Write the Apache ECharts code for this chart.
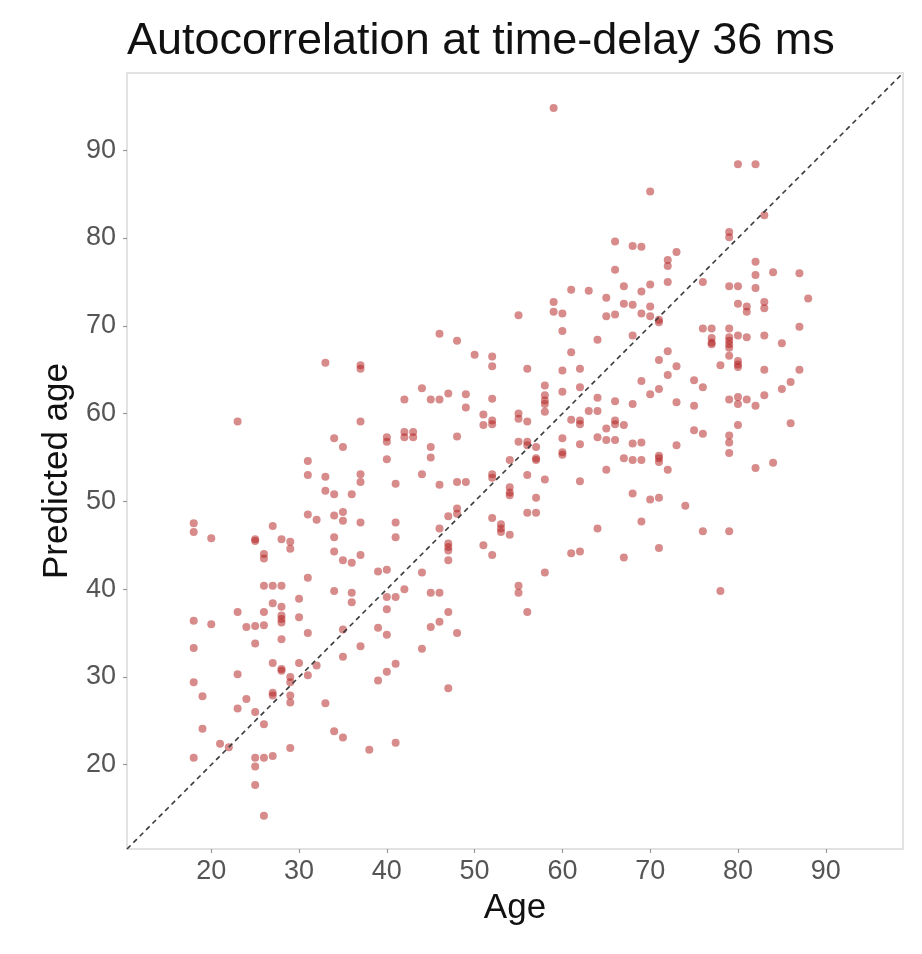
<!DOCTYPE html>
<html>
<head>
<meta charset="utf-8">
<script src="https://cdn.jsdelivr.net/npm/echarts@6/dist/echarts.min.js"></script>
<style>
html,body{margin:0;padding:0;background:#fff;}
#chart{width:922px;height:954px;}
</style>
</head>
<body>
<div id="chart"></div>
<script>
const titleText = 'Autocorrelation at time-delay 36 ms';
const xAxisName = 'Age';
const yAxisName = 'Predicted age';
const axisRange = [10.4, 98.8];
const xTicks = [20, 30, 40, 50, 60, 70, 80, 90];
const yTicks = [20, 30, 40, 50, 60, 70, 80, 90];

const age = [
  33,37,37,23,37,34,35,40,40,31,40,31,33,37,37,41,33,34,36,31,32,34,35,35,37,41,18,18,20,25,25,27,28,29,29,26,26,34,34,35,36,37,41,39,40,31,
  26,27,28,34,36,36,40,41,40,39,40,30,27,28,28,28,28,23,26,18,20,24,25,26,30,31,28,25,18,35,37,35,27,28,28,30,29,29,32,31,23,18,19,27,27,29,29,24,23,25,26,33,19,21,22,18,25,26,27,25,25,26,29,34,35,38,41,41,40,39,
  42,45,46,47,46,45,48,44,47,55,55,56,
  59,66,66,61,63,65,59,59,60,55,65,66,46,60,48,64,
  50,52,52,56,60,61,62,44,42,45,46,47,49,49,52,58,58,58,58,58,60,62,64,66,63,64,61,62,62,66,66,65,64,65,66,51,51,52,52,55,55,56,42,42,43,43,48,45,45,60,60,60,62,55,56,56,57,57,57,54,44,46,48,49,52,52,56,58,62,65,54,54,54,57,56,57,48,48,47,46,52,53,53,53,54,47,47,47,47,51,52,44,58,61,62,64,
  80,82,70,83,79,79,68,69,73,72,72,72,76,82,82,82,84,87,88,79,80,70,69,67,67,68,70,69,70,71,71,80,81,81,83,83,87,76,77,79,77,79,80,81,83,68,
  77,77,79,79,79,79,85,78,80,80,80,83,87,72,71,73,72,69,71,70,68,75,76,73,75,79,80,80,81,82,83,85,86,67,68,69,67,68,69,71,71,71,72,73,75,76,80,79,79,79,86,82,84,68,70,71,74,69,76,79,71,67,78
];
const predicted = [
  65.8,65.5,65.1,59.1,59.1,57.2,56.2,57.3,56.8,54.6,54.8,53.0,52.8,53.1,52.2,52.0,51.2,50.8,50.8,48.5,47.9,48.4,48.8,47.8,47.6,47.6,47.5,46.5,45.8,45.7,45.5,47.2,45.7,45.4,44.6,44.0,43.5,45.9,44.3,43.3,43.0,43.9,45.9,42.0,42.2,41.3,
  40.4,40.4,40.4,39.8,39.6,38.5,39.1,39.1,37.7,35.6,34.8,38.9,38.4,38.0,37.0,36.6,36.2,37.4,37.4,36.4,36.0,35.7,35.8,35.9,36.8,35.0,34.3,33.8,33.3,35.4,33.5,32.3,31.6,30.9,30.7,31.6,30.0,29.4,31.3,30.2,30.3,29.4,27.8,28.2,27.9,27.9,27.1,27.5,26.4,26.0,24.6,27.0,24.1,22.4,22.0,20.8,20.8,20.8,21.0,19.8,17.7,14.2,21.9,23.8,23.1,21.7,22.5,31.5,30.6,29.6,
  40.0,39.6,39.6,37.4,36.3,35.7,35.0,33.2,28.7,40.4,39.6,37.4,
  94.8,79.6,76.4,74.1,74.0,73.2,72.7,71.6,71.4,71.2,71.1,71.3,69.1,69.4,68.3,68.4,
  66.7,66.5,65.4,65.1,64.9,67.0,65.1,62.9,61.6,61.6,61.6,62.3,62.2,60.7,61.7,63.2,62.1,61.5,61.1,60.2,62.5,63.0,61.8,61.4,60.3,60.3,59.3,59.2,58.8,59.2,58.8,58.3,57.3,57.0,57.0,59.9,58.7,59.2,58.8,60.0,59.4,59.1,57.9,57.3,57.9,57.3,57.4,56.2,55.0,57.2,55.6,55.3,56.5,56.8,56.8,56.4,56.2,54.9,54.7,54.7,53.1,51.9,52.2,52.2,53.1,52.7,53.0,52.5,52.3,53.6,51.6,51.0,50.7,50.4,48.7,48.7,49.2,48.6,48.3,46.9,48.1,47.4,46.9,46.5,46.2,45.2,44.8,44.4,43.3,45.0,43.9,41.9,41.9,44.1,44.3,46.9,
  88.4,88.4,85.3,82.6,80.7,80.1,79.1,79.0,78.4,77.5,76.8,75.0,75.0,77.3,75.8,74.3,76.1,76.0,73.1,74.5,74.5,74.7,73.9,74.5,72.5,72.4,72.2,71.4,71.1,70.7,70.4,72.5,72.2,71.6,72.7,72.0,69.9,69.7,69.7,69.7,68.6,68.7,68.9,68.7,68.9,68.9,
  68.1,67.9,68.3,67.9,67.5,66.6,68.0,65.5,66.0,65.6,65.3,65.0,65.0,67.1,66.1,65.4,64.4,63.7,62.8,62.2,61.1,63.8,63.0,61.3,60.9,61.6,61.9,61.1,61.6,60.9,62.1,62.8,63.6,58.7,56.6,56.7,54.9,54.7,54.7,55.2,54.9,54.5,53.6,56.4,58.1,57.7,58.7,57.5,56.7,55.5,58.9,53.8,54.4,50.9,50.2,50.4,49.5,47.7,46.6,46.6,44.7,43.6,39.8
];

const points = age.map((a, i) => [a, predicted[i]]);
const identity = [[axisRange[0], axisRange[0]], [axisRange[1], axisRange[1]]];

const FONT = "'Liberation Sans', Helvetica, Arial, sans-serif";
const chart = echarts.init(document.getElementById('chart'), null, {renderer: 'canvas'});

function axisCommon(ticks, name) {
  return {
    type: 'value',
    min: axisRange[0],
    max: axisRange[1],
    name: name,
    nameLocation: 'middle',
    nameTextStyle: {fontFamily: FONT, fontSize: 35, color: '#111'},
    axisLine: {show: false},
    splitLine: {show: false},
    axisTick: {show: true, length: 4, lineStyle: {color: '#999', width: 1.2}, customValues: ticks},
    axisLabel: {fontFamily: FONT, fontSize: 27, color: '#555', customValues: ticks}
  };
}

const xAxis = axisCommon(xTicks, xAxisName);
xAxis.nameGap = 42;
xAxis.axisLabel.margin = 9;
const yAxis = axisCommon(yTicks, yAxisName);
yAxis.nameGap = 47;
yAxis.axisLabel.margin = 11;
yAxis.nameTextStyle.padding = [0, 20, 0, 0];

chart.setOption({
  animation: false,
  backgroundColor: '#fff',
  title: {
    text: titleText,
    left: 122,
    top: 14,
    textStyle: {fontFamily: FONT, fontSize: 45, fontWeight: 'normal', color: '#111'}
  },
  grid: {
    left: 127, right: 19, top: 73, bottom: 105,
    show: true, borderColor: '#e2e2e2', borderWidth: 2, backgroundColor: '#fff'
  },
  xAxis: xAxis,
  yAxis: yAxis,
  series: [
    {
      type: 'line',
      data: identity,
      symbol: 'none',
      silent: true,
      lineStyle: {color: '#3a3a3a', width: 1.6, type: [5, 4]},
      z: 3
    },
    {
      type: 'scatter',
      data: points,
      symbol: 'circle',
      symbolSize: 8,
      itemStyle: {color: 'rgba(178,34,34,0.66)'},
      z: 2
    }
  ]
});
</script>
</body>
</html>
